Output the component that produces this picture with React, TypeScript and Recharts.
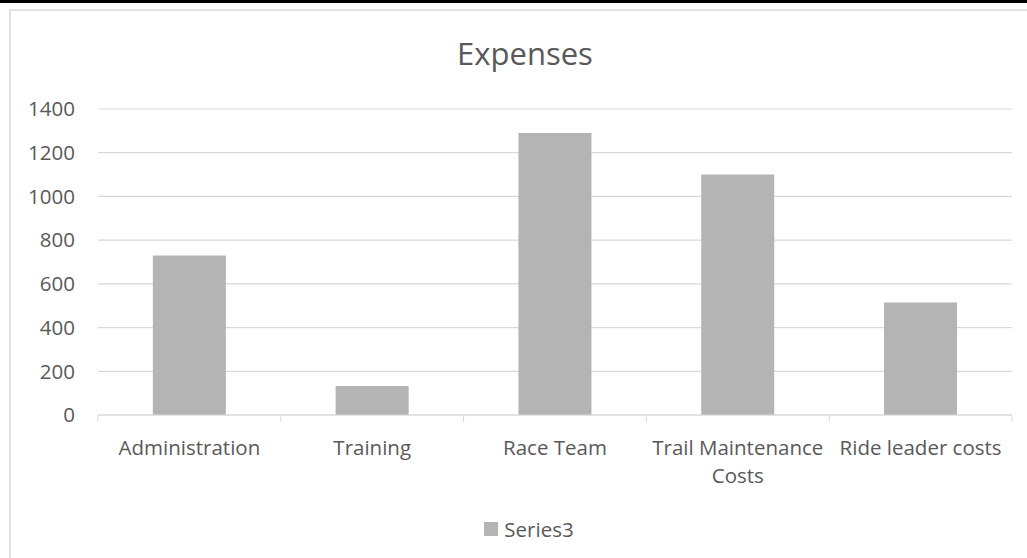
import React from 'react';
import { BarChart, Bar, XAxis, YAxis, CartesianGrid, Legend } from 'recharts';

const categories = ['Administration', 'Training', 'Race Team', 'Trail Maintenance Costs', 'Ride leader costs'];
const series3 = [730, 133, 1290, 1100, 515];
const yTicks = [0, 200, 400, 600, 800, 1000, 1200, 1400];

const data = categories.map((name, i) => ({ name, series3: series3[i] }));

const FONT = "'Open Sans', sans-serif";
const TEXT = '#595959';
const GRID = '#d9d9d9';
const TICK_MARGIN = 25;
const LABEL_SIZE = 20.5;

let ctx: CanvasRenderingContext2D | null = null;
const measure = (s: string) => {
  if (!ctx) ctx = document.createElement('canvas').getContext('2d');
  if (!ctx) return s.length * LABEL_SIZE * 0.5;
  ctx.font = `${LABEL_SIZE}px 'Open Sans'`;
  return ctx.measureText(s).width;
};

// simple word wrap to the category band width
const wrap = (label: string, maxWidth: number) => {
  const lines: string[] = [];
  let cur = '';
  label.split(' ').forEach((w) => {
    const next = cur ? `${cur} ${w}` : w;
    if (cur && measure(next) > maxWidth) {
      lines.push(cur);
      cur = w;
    } else {
      cur = next;
    }
  });
  if (cur) lines.push(cur);
  return lines;
};

const CategoryTick = (props: any) => {
  const { x, y, payload, index, visibleTicksCount } = props;
  const half = payload.offset ?? 0;
  const top = y - TICK_MARGIN;
  const lines = wrap(String(payload.value), half * 2 - 4);
  return (
    <g>
      <line x1={x - half} x2={x - half} y1={top} y2={top + 7} stroke={GRID} strokeWidth={1} />
      {index === visibleTicksCount - 1 && (
        <line x1={x + half} x2={x + half} y1={top} y2={top + 7} stroke={GRID} strokeWidth={1} />
      )}
      <text x={x} y={y} textAnchor="middle" fill={TEXT} fontSize={LABEL_SIZE} fontFamily={FONT}>
        {lines.map((l, i) => (
          <tspan key={i} x={x} dy={i === 0 ? '0.71em' : 28}>
            {l}
          </tspan>
        ))}
      </text>
    </g>
  );
};

const LegendContent = (props: any) => (
  <div style={{ display: 'flex', justifyContent: 'center', alignItems: 'center' }}>
    {(props.payload || []).map((p: any) => (
      <div key={p.value} style={{ display: 'flex', alignItems: 'center' }}>
        <span style={{ width: 14, height: 14, background: p.color, marginRight: 6, display: 'inline-block' }} />
        <span style={{ fontFamily: FONT, fontSize: LABEL_SIZE, color: TEXT, lineHeight: '28px' }}>{p.value}</span>
      </div>
    ))}
  </div>
);

const App: React.FC = () => {
  return (
    <div style={{ position: 'absolute', left: 0, top: 0, width: 1027, height: 558, background: '#fff', overflow: 'hidden', fontFamily: FONT }}>
      <div style={{ position: 'absolute', left: 0, top: 0, width: 1027, height: 3, background: '#000' }} />
      <div style={{ position: 'absolute', left: 9, top: 9, width: 1060, height: 600, border: `2px solid #e2e2e2`, boxSizing: 'border-box' }} />
      <div style={{ position: 'absolute', left: 0, top: 38, width: 1050, textAlign: 'center', fontSize: 31, lineHeight: '31px', color: TEXT }}>
        Expenses
      </div>
      <div style={{ position: 'absolute', left: 0, top: 0 }}>
        <BarChart width={1027} height={558} data={data} margin={{ top: 109, right: 15, bottom: 113, left: 38 }} barCategoryGap="30%">
          <CartesianGrid vertical={false} stroke={GRID} strokeWidth={1.2} />
          <XAxis
            dataKey="name"
            height={30}
            axisLine={{ stroke: GRID, strokeWidth: 1.2 }}
            tickLine={false}
            tickSize={0}
            tickMargin={TICK_MARGIN}
            interval={0}
            tick={<CategoryTick />}
          />
          <YAxis
            width={60}
            domain={[0, 1400]}
            ticks={yTicks}
            axisLine={false}
            tickLine={false}
            tickSize={0}
            tickMargin={23}
            tick={{ fill: TEXT, fontSize: LABEL_SIZE, fontFamily: FONT }}
          />
          <Legend
            verticalAlign="middle"
            layout="horizontal"
            wrapperStyle={{ left: 0, top: 515, width: 1058, height: 28 }}
            content={<LegendContent />}
          />
          <Bar dataKey="series3" name="Series3" fill="#b4b4b4" isAnimationActive={false} />
        </BarChart>
      </div>
    </div>
  );
};

export default App;
